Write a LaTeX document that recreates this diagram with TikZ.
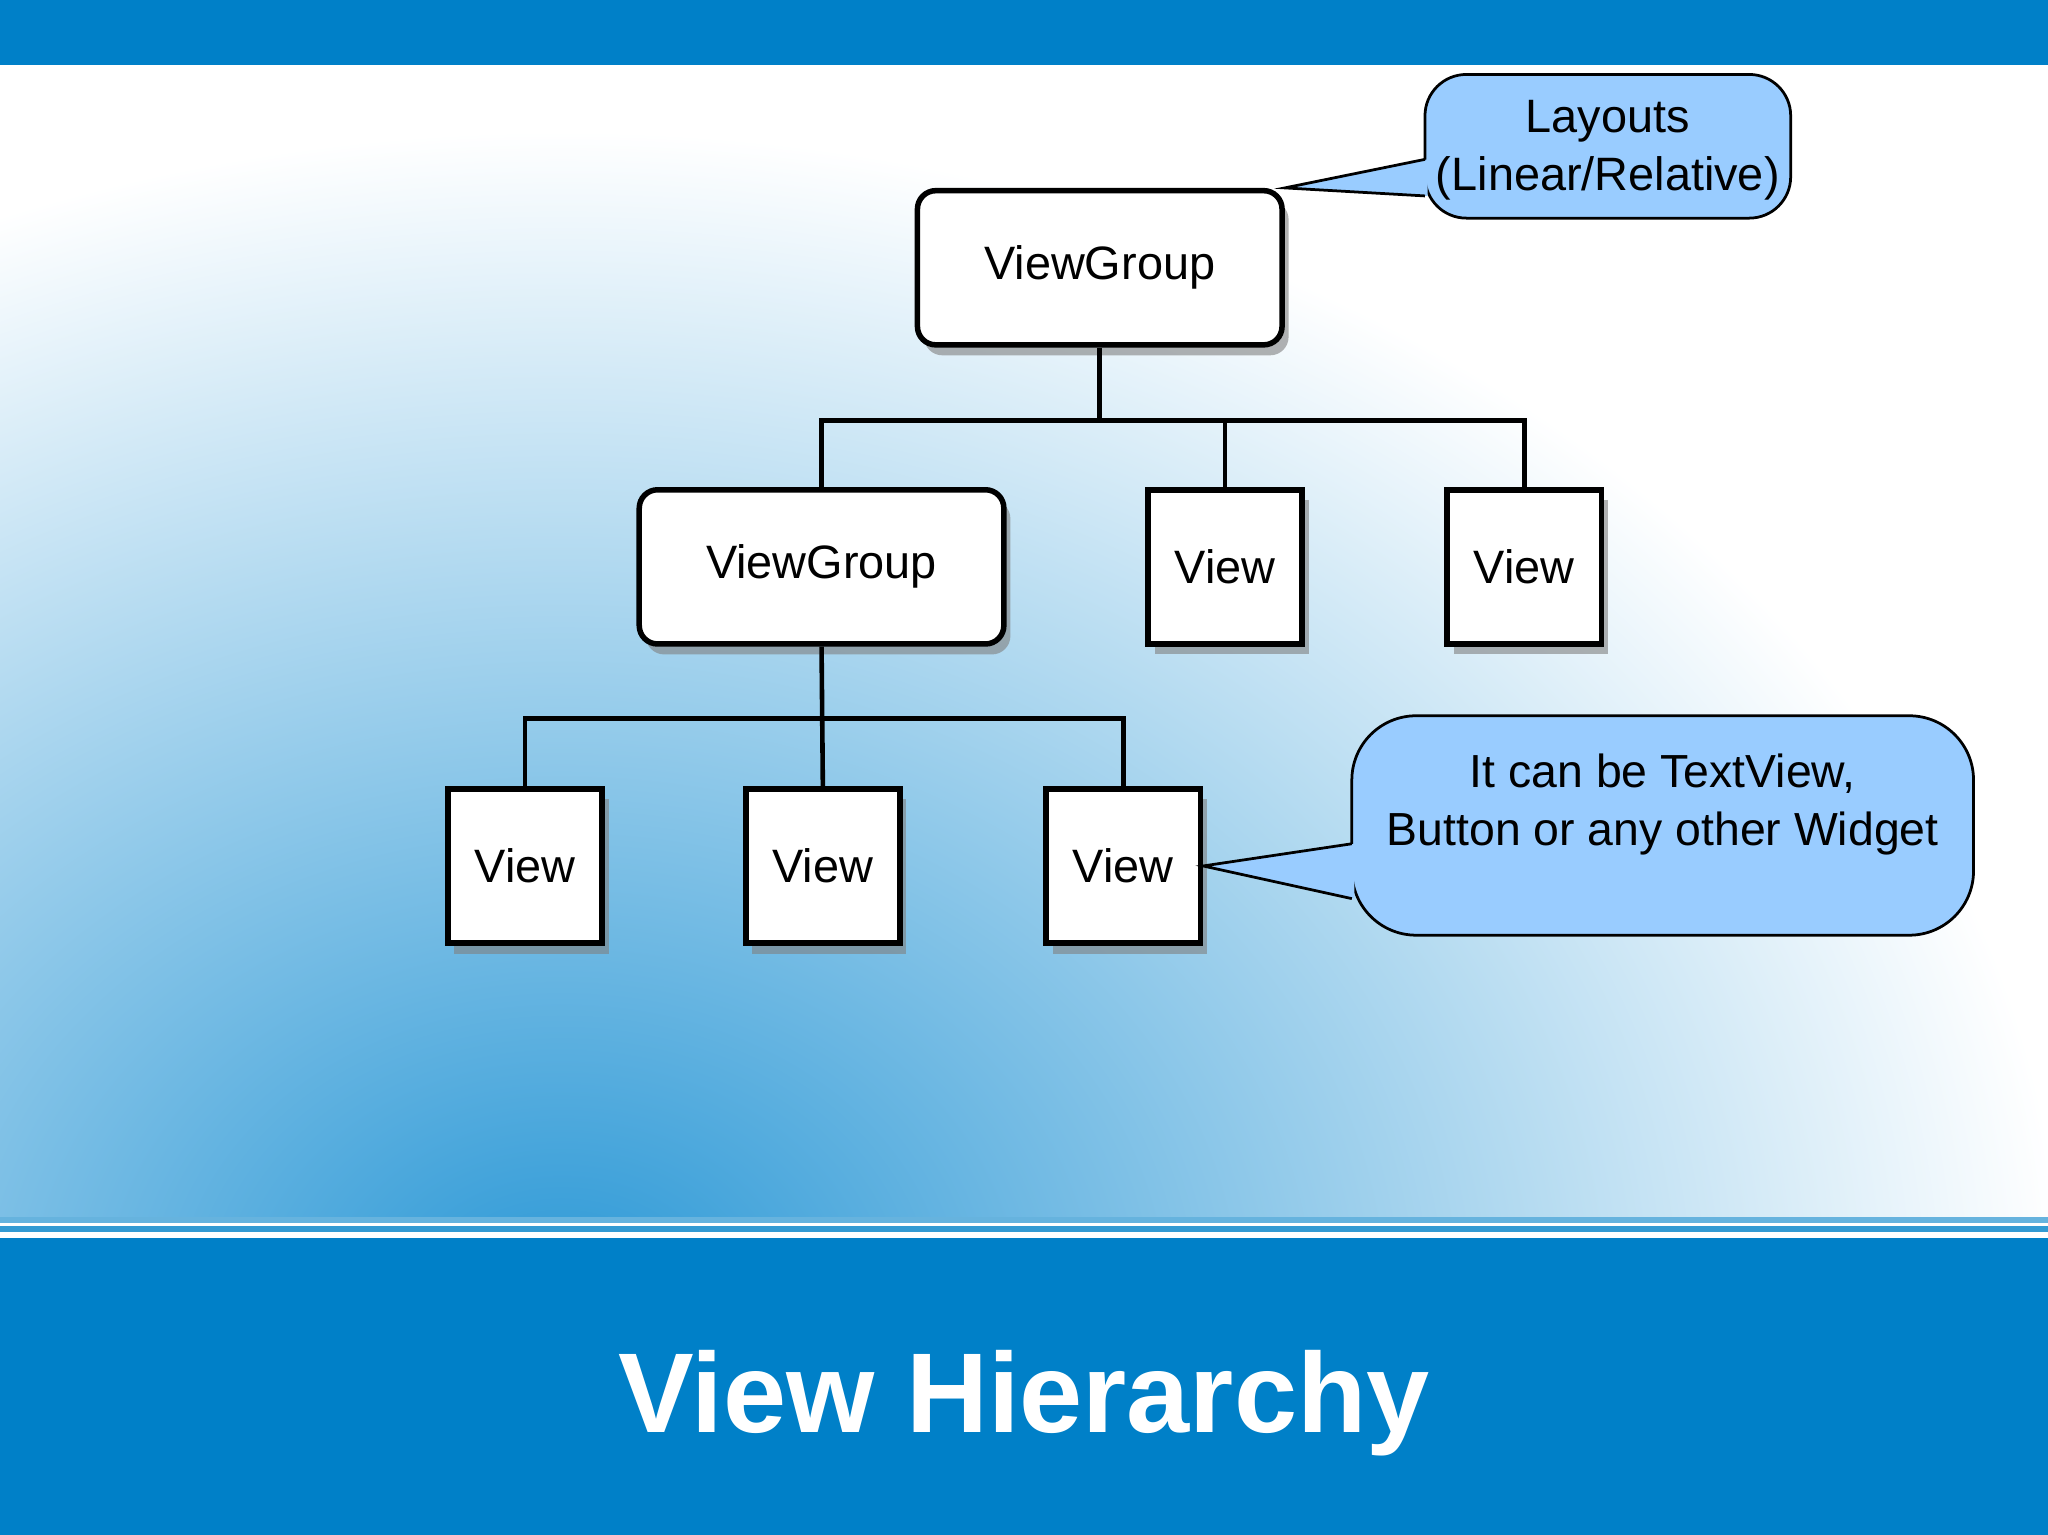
\documentclass[tikz,border=0pt]{standalone}
\usepackage{fontspec}
\setmainfont{Liberation Sans}
\usetikzlibrary{shadows}
\definecolor{bar}{HTML}{0080C8}
\definecolor{callout}{HTML}{99CCFF}
\definecolor{mid}{HTML}{2B98D6}
\begin{document}
\begin{tikzpicture}[x=0.01cm,y=-0.01cm,
  box/.style={draw,line width=1.2pt,fill=white,drop shadow={shadow xshift=0.5mm,shadow yshift=-0.8mm,opacity=0.6},font=\fontsize{10.2}{12}\selectfont},
  vg/.style={box,rounded corners=4pt,minimum width=2.79cm,minimum height=1.18cm},
  vw/.style={box,minimum width=1.18cm,minimum height=1.18cm},
  conn/.style={line width=1pt},
  co/.style={fill=callout,draw,line width=0.6pt}]
\useasboundingbox (0,0) rectangle (1568,1175);
\fill[white] (0,0) rectangle (1568,935);
\begin{scope}
\clip (0,50) rectangle (1568,935);
\shade[inner color=mid,outer color=white] (430,1000) ellipse (1150 and 900);
\end{scope}
\fill[bar] (0,0) rectangle (1568,50);
\fill[bar!60] (0,932) rectangle (1568,936);
\fill[bar!80] (0,939) rectangle (1568,943);
\fill[bar] (0,948) rectangle (1568,1175);
\node[font=\fontsize{24.7}{28}\selectfont\bfseries,text=white] (title) at (784,1074) {View Hierarchy};

\node[vg] (vg1) at (842,205) {ViewGroup};
\node[vg] (vg2) at (629,434) {ViewGroup};
\node[vw] (v1) at (938,434) {View};
\node[vw] (v2) at (1167,434) {View};
\node[vw] (v3) at (402,663) {View};
\node[vw] (v4) at (630,663) {View};
\node[vw] (v5) at (860,663) {View};

\draw[conn] (vg1.south) -- ++(0,56) -| (vg2.north);
\draw[conn] (vg1.south) ++(0,56) -| (v1.north);
\draw[conn] (vg1.south) ++(0,56) -| (v2.north);
\draw[conn] (vg2.south) -- (v4.north);
\draw[conn] (vg2.south) ++(0,55) -| (v3.north);
\draw[conn] (vg2.south) ++(0,55) -| (v5.north);

\coordinate (t1) at (vg1.north east);
\draw[co,rounded corners=9pt] (1091,57) rectangle (1371,167);
\fill[callout] (1093,122) -- (t1) -- (1093,150) -- cycle;
\draw[line width=0.6pt] (1091,122) -- (t1) -- (1091,150);
\node[align=center,font=\fontsize{10.2}{12.5}\selectfont] (c1) at (1231,115) {Layouts\\(Linear/Relative)};
\coordinate (t2) at (v5.east);
\draw[co,rounded corners=14pt] (1035,548) rectangle (1511,716);
\fill[callout] (1037,646) -- (t2) -- (1037,688) -- cycle;
\draw[line width=0.6pt] (1035,646) -- (t2) -- (1035,688);
\node[align=center,font=\fontsize{10.1}{12.5}\selectfont] (c2) at (1273,616) {It can be TextView,\\Button or any other Widget};
\end{tikzpicture}
\end{document}
